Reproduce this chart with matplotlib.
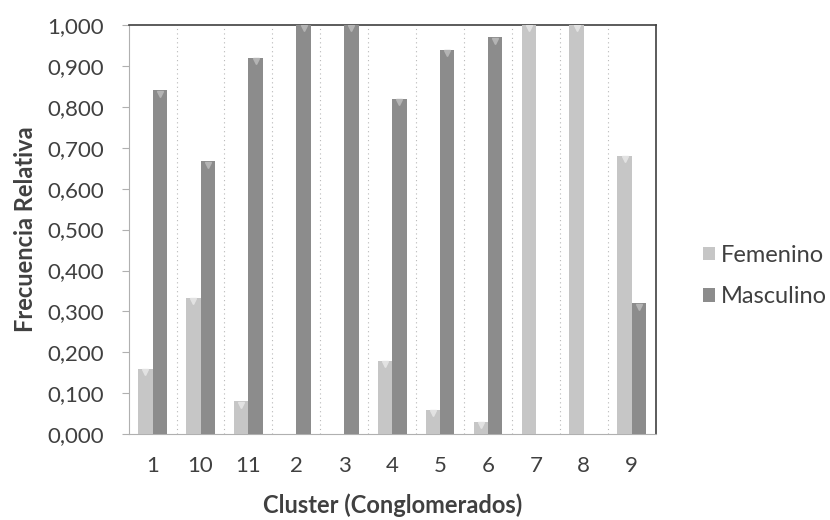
import matplotlib
matplotlib.use("Agg")
import matplotlib.pyplot as plt
import numpy as np
from matplotlib.ticker import FuncFormatter, MultipleLocator

clusters = ["1", "10", "11", "2", "3", "4", "5", "6", "7", "8", "9"]
femenino = [0.16, 0.333, 0.08, 0.0, 0.0, 0.18, 0.06, 0.03, 1.0, 1.0, 0.68]
masculino = [0.84, 0.667, 0.92, 1.0, 1.0, 0.82, 0.94, 0.97, 0.0, 0.0, 0.32]

plt.rcParams["font.family"] = ["Lato", "DejaVu Sans"]
text_color = "#404040"
c_fem = "#c6c6c6"
c_mas = "#8c8c8c"

fig = plt.figure(figsize=(8.3, 5.2), dpi=100)
ax = fig.add_axes([0.155, 0.165, 0.635, 0.787])

x = np.arange(len(clusters))
w = 0.30
ax.bar(x - w / 2, femenino, w, color=c_fem, label="Femenino", zorder=3)
ax.bar(x + w / 2, masculino, w, color=c_mas, label="Masculino", zorder=3)

# small highlight caps at the top of each non-empty bar
for off, vals, col in [(-w / 2, femenino, "#e2e2e2"), (w / 2, masculino, "#b4b4b4")]:
    xs = [xi + off for xi, v in zip(x, vals) if v > 0]
    ys = [v - 0.008 for v in vals if v > 0]
    ax.plot(xs, ys, linestyle="none", marker="v", markersize=5, color=col, zorder=4)

ax.set_xlim(-0.5, len(clusters) - 0.5)
ax.set_ylim(0, 1.0)
ax.yaxis.set_major_locator(MultipleLocator(0.1))
ax.yaxis.set_major_formatter(FuncFormatter(lambda v, p: f"{v:.3f}".replace(".", ",")))
ax.set_xticks(x)
ax.set_xticklabels(clusters)

# dotted separators between categories
for b in np.arange(0.5, len(clusters) - 0.5, 1.0):
    ax.axvline(b, color="#b8b8b8", linestyle=(0, (1, 3)), linewidth=0.8, zorder=1)

for s in ["left", "bottom"]:
    ax.spines[s].set_color("#b0b0b0")
    ax.spines[s].set_linewidth(0.8)
for s in ["top", "right"]:
    ax.spines[s].set_color("#404040")
    ax.spines[s].set_linewidth(1.2)

ax.tick_params(axis="y", length=5, color="#b0b0b0", labelsize=16, labelcolor=text_color, pad=13)
ax.tick_params(axis="x", length=0, labelsize=16, labelcolor=text_color, pad=16)

ax.set_ylabel("Frecuencia Relativa", fontsize=17, fontweight="bold", color=text_color, labelpad=7)
ax.set_xlabel("Cluster (Conglomerados)", fontsize=17, fontweight="bold", color=text_color, labelpad=12)

leg = fig.legend(loc="center left", bbox_to_anchor=(0.847, 0.469), frameon=False,
                 fontsize=17, handlelength=0.5, handleheight=0.5, handletextpad=0.25,
                 labelspacing=0.85, borderpad=0, borderaxespad=0, labelcolor=text_color)

fig.savefig("out.png", dpi=100)
